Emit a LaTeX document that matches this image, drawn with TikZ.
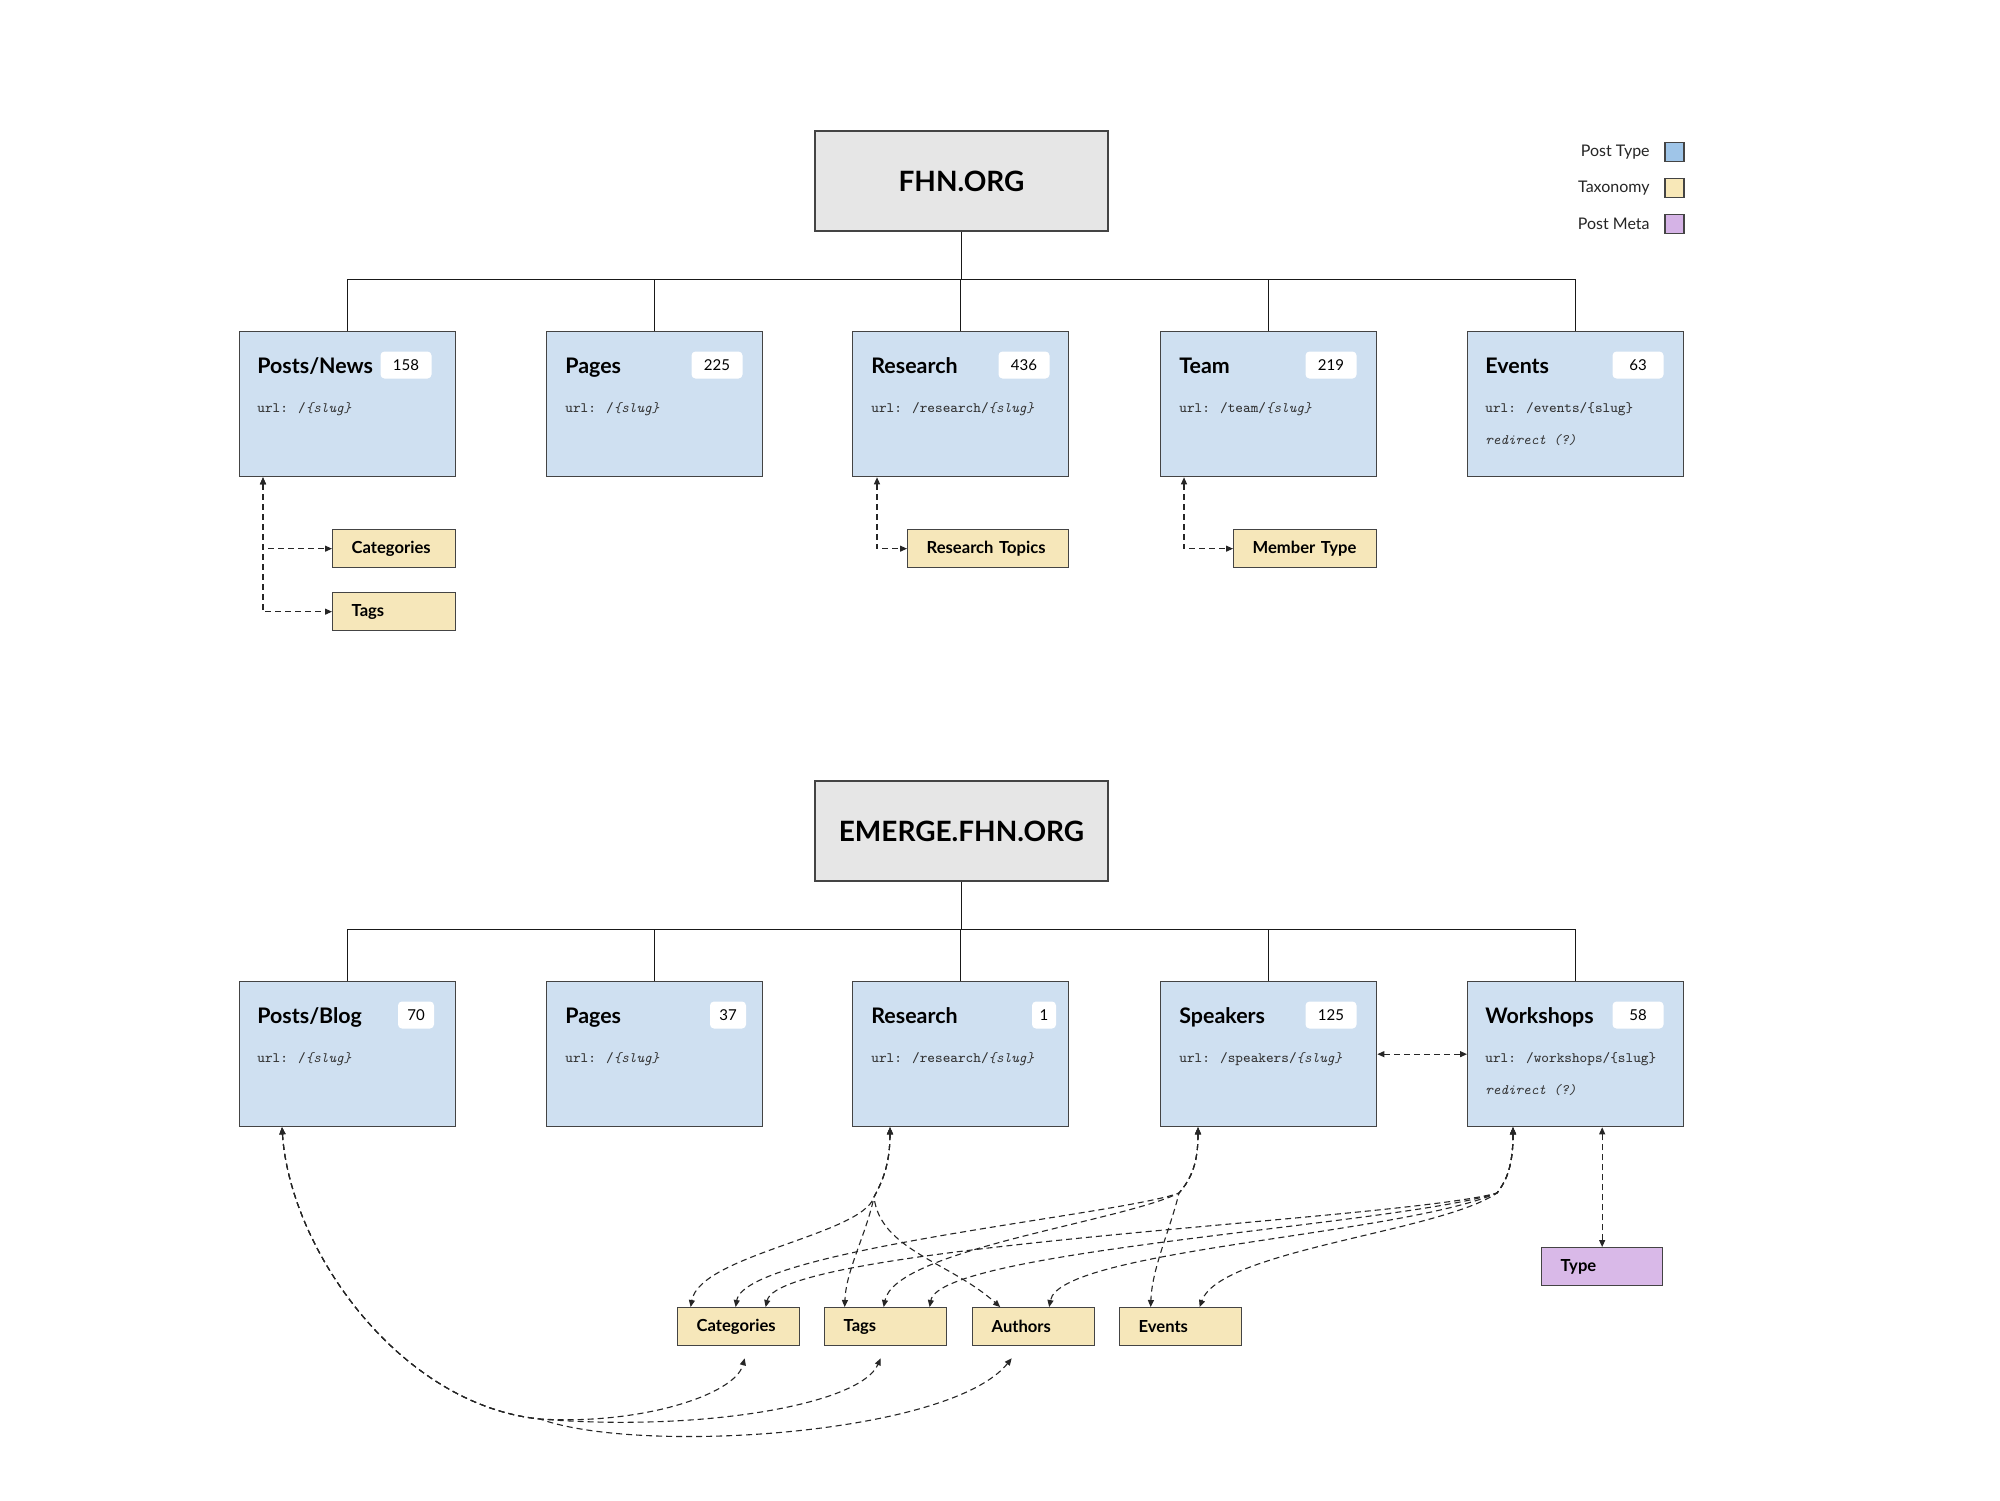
\documentclass[tikz,border=0pt]{standalone}
\usepackage{fontspec}
\setmainfont{Lato}
\usetikzlibrary{arrows.meta}
\definecolor{ptfill}{HTML}{CFE0F1}
\definecolor{txfill}{HTML}{F6E7BA}
\definecolor{pmfill}{HTML}{D9B9E8}
\definecolor{rootfill}{HTML}{E6E6E6}
\definecolor{edgec}{HTML}{444444}
\definecolor{urlc}{HTML}{333333}
\definecolor{lgblue}{HTML}{9FC5E8}
\definecolor{lgyellow}{HTML}{F8E8B8}
\definecolor{lgpurple}{HTML}{D5B3E6}
\newcommand\slugit{\textit{\{slug\}}}
\begin{document}
\begin{tikzpicture}[x=0.5pt,y=-0.5pt,
  box/.style={draw=edgec, line width=0.65pt, inner sep=0pt, anchor=north west},
  ptbox/.style={box, fill=ptfill, minimum width=108pt, minimum height=72.5pt},
  rootbox/.style={draw=edgec, line width=0.65pt, fill=rootfill, minimum width=146.5pt, minimum height=50pt, inner sep=0pt, font=\fontsize{14}{16}\selectfont\bfseries},
  ttl/.style={anchor=base west, inner sep=0pt, font=\fontsize{10.7}{13}\selectfont\bfseries},
  badge/.style={fill=white, rounded corners=2pt, minimum height=13.5pt, inner sep=0pt, font=\fontsize{7.5}{9}\selectfont},
  url/.style={anchor=base west, inner sep=0pt, text=urlc, font=\fontsize{7.2}{9}\selectfont\ttfamily},
  txbox/.style={box, fill=txfill, minimum height=19pt, inner xsep=9.5pt, inner ysep=0pt, text width=#1, align=left, font=\fontsize{8.3}{10}\selectfont\bfseries},
  pmbox/.style={txbox=#1, fill=pmfill},
  lgtxt/.style={anchor=east, inner sep=0pt, text=black!85, font=\fontsize{8}{10}\selectfont},
  lgsq/.style={draw=edgec, line width=0.6pt, minimum size=9.5pt, inner sep=0pt},
  bus/.style={draw=black!90, line width=0.5pt},
  rel/.style={draw=black!85, line width=0.55pt, dash pattern=on 3pt off 2pt, >={Triangle[length=3.5pt,width=3pt]}, <->}
]
\useasboundingbox[fill=white] (0,0) rectangle (2000,1500);

% ---------- legend
\node[lgtxt] (lg1) at (1650,152) {Post Type};
\node[lgsq, fill=lgblue] (lq1) at (1674.5,152) {};
\node[lgtxt] (lg2) at (1650,188) {Taxonomy};
\node[lgsq, fill=lgyellow] (lq2) at (1674.5,188) {};
\node[lgtxt] (lg3) at (1650,224) {Post Meta};
\node[lgsq, fill=lgpurple] (lq3) at (1674.5,224) {};

% ---------- FHN.ORG
\node[rootbox] (fhn) at (961.5,181) {FHN.ORG};

\node[ptbox] (pn) at (239,331) {};
\node[ttl] (pnT) at (257,373) {Posts/News};
\node[badge, minimum width=25.5pt] (pnB) at (406,365) {158};
\node[url] (pnU) at (257,412) {url: /\slugit};

\node[ptbox] (pg) at (546,331) {};
\node[ttl] (pgT) at (565,373) {Pages};
\node[badge, minimum width=25.5pt] (pgB) at (717,365) {225};
\node[url] (pgU) at (565,412) {url: /\slugit};

\node[ptbox] (rs) at (852,331) {};
\node[ttl] (rsT) at (871,373) {Research};
\node[badge, minimum width=25.5pt] (rsB) at (1024,365) {436};
\node[url] (rsU) at (871,412) {url: /research/\slugit};

\node[ptbox] (tm) at (1160,331) {};
\node[ttl] (tmT) at (1179,373) {Team};
\node[badge, minimum width=25.5pt] (tmB) at (1331,365) {219};
\node[url] (tmU) at (1179,412) {url: /team/\slugit};

\node[ptbox] (ev) at (1467,331) {};
\node[ttl] (evT) at (1485,373) {Events};
\node[badge, minimum width=25.5pt] (evB) at (1638,365) {63};
\node[url] (evU) at (1485,412) {url: /events/\{slug\}};
\node[url] (evR) at (1485,444) {\itshape redirect (?)};

\coordinate (bus1) at (961.5,279);
\draw[bus] (fhn.south) -- (bus1);
\draw[bus] (pn.north |- bus1) -- (ev.north |- bus1);
\foreach \b in {pn,pg,rs,tm,ev} \draw[bus] (\b.north) -- (\b.north |- bus1);

\node[txbox=42.5pt] (cat1) at (332,529) {\mbox{Categories}};
\node[txbox=42.5pt] (tag1) at (332,592) {\mbox{Tags}};
\node[txbox=61.5pt] (rt) at (907,529) {\mbox{Research Topics}};
\node[txbox=52.5pt] (mt) at (1233,529) {\mbox{Member Type}};

\draw[rel] ([xshift=12pt]pn.south west) |- (cat1.west);
\draw[rel] ([xshift=12pt]pn.south west) |- (tag1.west);
\draw[rel] ([xshift=12.5pt]rs.south west) |- (rt.west);
\draw[rel] ([xshift=12pt]tm.south west) |- (mt.west);

% ---------- EMERGE.FHN.ORG
\node[rootbox] (em) at (961.5,831) {EMERGE.FHN.ORG};

\node[ptbox] (pb) at (239,981) {};
\node[ttl] (pbT) at (257,1023) {Posts/Blog};
\node[badge, minimum width=18pt] (pbB) at (416,1015) {70};
\node[url] (pbU) at (257,1062) {url: /\slugit};

\node[ptbox] (pg2) at (546,981) {};
\node[ttl] (pg2T) at (565,1023) {Pages};
\node[badge, minimum width=18pt] (pg2B) at (728,1015) {37};
\node[url] (pg2U) at (565,1062) {url: /\slugit};

\node[ptbox] (rs2) at (852,981) {};
\node[ttl] (rs2T) at (871,1023) {Research};
\node[badge, minimum width=12pt] (rs2B) at (1044,1015) {1};
\node[url] (rs2U) at (871,1062) {url: /research/\slugit};

\node[ptbox] (sp) at (1160,981) {};
\node[ttl] (spT) at (1179,1023) {Speakers};
\node[badge, minimum width=25.5pt] (spB) at (1331,1015) {125};
\node[url] (spU) at (1179,1062) {url: /speakers/\slugit};

\node[ptbox] (ws) at (1467,981) {};
\node[ttl] (wsT) at (1485,1023) {Workshops};
\node[badge, minimum width=25.5pt] (wsB) at (1638,1015) {58};
\node[url] (wsU) at (1485,1062) {url: /workshops/\{slug\}};
\node[url] (wsR) at (1485,1094) {\itshape redirect (?)};

\coordinate (bus2) at (961.5,929);
\draw[bus] (em.south) -- (bus2);
\draw[bus] (pb.north |- bus2) -- (ws.north |- bus2);
\foreach \b in {pb,pg2,rs2,sp,ws} \draw[bus] (\b.north) -- (\b.north |- bus2);

\node[txbox=42pt] (cat2) at (677,1307) {\mbox{Categories}};
\node[txbox=42pt] (tag2) at (824,1307) {\mbox{Tags}};
\node[txbox=42pt] (au) at (972,1307) {\mbox{Authors}};
\node[txbox=42pt] (evt) at (1119,1307) {\mbox{Events}};
\node[pmbox=41.5pt] (type) at (1541,1247) {\mbox{Type}};

% Speakers <-> Workshops, Workshops <-> Type
\draw[rel] (sp.east) -- (ws.west);
\draw[rel] (type.north) -- (type.north |- ws.south);

% Posts/Blog
\coordinate (pbJ) at (540,1419);
\draw[rel] ([xshift=21.5pt]pb.south west) .. controls (290,1250) and (400,1405) .. (pbJ) .. controls (640,1425) and (735,1395) .. ([xshift=3pt,yshift=-6pt]cat2.south);
\draw[rel] ([xshift=21.5pt]pb.south west) .. controls (290,1250) and (400,1405) .. (pbJ) .. controls (700,1432) and (860,1405) .. ([xshift=-2.5pt,yshift=-6pt]tag2.south);
\draw[rel] ([xshift=21.5pt]pb.south west) .. controls (290,1250) and (400,1405) .. (pbJ) .. controls (640,1455) and (950,1435) .. ([xshift=-11pt,yshift=-6pt]au.south);

% Research
\coordinate (rsJ) at (874,1197);
\draw[rel] ([xshift=19pt]rs2.south west) .. controls (890,1165) and (882,1182) .. (rsJ) .. controls (862,1235) and (700,1255) .. ([xshift=-24pt]cat2.north);
\draw[rel] ([xshift=19pt]rs2.south west) .. controls (890,1165) and (882,1182) .. (rsJ) .. controls (866,1235) and (846,1270) .. ([xshift=-20.5pt]tag2.north);
\draw[rel] ([xshift=19pt]rs2.south west) .. controls (890,1165) and (882,1182) .. (rsJ) .. controls (880,1250) and (950,1262) .. ([xshift=-16.75pt]au.north);

% Speakers
\coordinate (spJ) at (1179,1193);
\draw[rel] ([xshift=19pt]sp.south west) .. controls (1198,1162) and (1192,1178) .. (spJ) .. controls (1120,1215) and (745,1250) .. ([xshift=-1.5pt]cat2.north);
\draw[rel] ([xshift=19pt]sp.south west) .. controls (1198,1162) and (1192,1178) .. (spJ) .. controls (1120,1222) and (895,1250) .. ([xshift=-1pt]tag2.north);
\draw[rel] ([xshift=19pt]sp.south west) .. controls (1198,1162) and (1192,1178) .. (spJ) .. controls (1170,1230) and (1152,1268) .. ([xshift=-15pt]evt.north);

% Workshops
\coordinate (wsJ) at (1497,1193);
\draw[rel] ([xshift=23pt]ws.south west) .. controls (1513,1165) and (1507,1180) .. (wsJ) .. controls (1400,1220) and (780,1245) .. ([xshift=13.5pt]cat2.north);
\draw[rel] ([xshift=23pt]ws.south west) .. controls (1513,1165) and (1507,1180) .. (wsJ) .. controls (1400,1225) and (940,1250) .. ([xshift=22pt]tag2.north);
\draw[rel] ([xshift=23pt]ws.south west) .. controls (1513,1165) and (1507,1180) .. (wsJ) .. controls (1400,1235) and (1060,1250) .. ([xshift=7.75pt]au.north);
\draw[rel] ([xshift=23pt]ws.south west) .. controls (1513,1165) and (1507,1180) .. (wsJ) .. controls (1440,1232) and (1220,1250) .. ([xshift=9.5pt]evt.north);
\end{tikzpicture}
\end{document}
